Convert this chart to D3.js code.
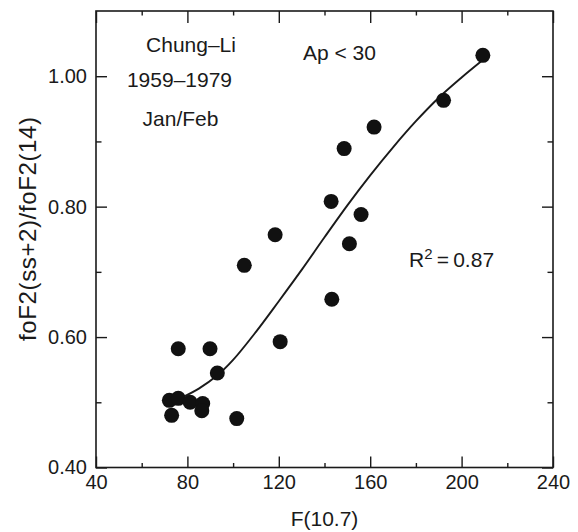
<!DOCTYPE html>
<html>
<head>
<meta charset="utf-8">
<script src="https://cdn.jsdelivr.net/npm/d3@7"></script>
<style>
html,body{margin:0;padding:0;background:#fff;}
svg{display:block;font-family:"Liberation Sans",Arial,Helvetica,sans-serif;}
</style>
</head>
<body>
<svg id="chart" width="578" height="532"></svg>
<script>
// Observed points: F(10.7) and ratio
const f107 = [209.3,192.1,161.7,148.6,142.9,156.0,150.9,143.2,118.4,104.9,120.6,76.0,89.9,93.1,72.1,76.0,81.2,86.7,86.3,73.1,101.6];
const ratio = [1.032,0.963,0.922,0.889,0.808,0.788,0.743,0.658,0.757,0.710,0.593,0.582,0.582,0.545,0.503,0.506,0.500,0.498,0.487,0.480,0.475];
// Fitted curve
const fitX = [78,85,93,100,110,120,130,140,150,160,170,180,190,200,209];
const fitY = [0.508,0.521,0.541,0.565,0.608,0.655,0.703,0.753,0.802,0.848,0.891,0.931,0.967,0.998,1.024];
// Ticks
const xMajor = [40,80,120,160,200,240];
const xMinor = [60,100,140,180,220];
const yMajor = [0.40,0.60,0.80,1.00];
const yMinor = [0.50,0.70,0.90];
const xTitle = "F(10.7)";
const yTitle = "foF2(ss+2)/foF2(14)";

const svg = d3.select("#chart");
const L=96, R=553, T=11, B=467.5;
const x = d3.scaleLinear().domain([40,240]).range([L,R]);
const y = d3.scaleLinear().domain([0.4,1.1]).range([B,T]);
const ink = "#1a1a1a";
const fs = 20;

// Frame
svg.append("rect").attr("x",L).attr("y",T).attr("width",R-L).attr("height",B-T)
  .attr("fill","none").attr("stroke",ink).attr("stroke-width",1.6);

function styleAxis(g){
  g.select(".domain").remove();
  g.selectAll(".tick line").attr("stroke",ink).attr("stroke-width",1.4);
  g.selectAll(".tick text").attr("fill",ink).style("font-size",fs+"px").style("font-family",'"Liberation Sans",Arial,sans-serif');
}
// bottom
svg.append("g").attr("transform",`translate(0,${B})`)
  .call(d3.axisBottom(x).tickValues(xMajor).tickSize(-11).tickPadding(7).tickFormat(d3.format("d")))
  .call(styleAxis);
svg.append("g").attr("transform",`translate(0,${B})`)
  .call(d3.axisBottom(x).tickValues(xMinor).tickSize(-4.5).tickFormat(""))
  .call(styleAxis);
// top
svg.append("g").attr("transform",`translate(0,${T})`)
  .call(d3.axisTop(x).tickValues(xMajor).tickSize(-12).tickFormat(""))
  .call(styleAxis);
svg.append("g").attr("transform",`translate(0,${T})`)
  .call(d3.axisTop(x).tickValues(xMinor).tickSize(-4.5).tickFormat(""))
  .call(styleAxis);
// left
svg.append("g").attr("transform",`translate(${L},0)`)
  .call(d3.axisLeft(y).tickValues(yMajor).tickSize(-11).tickPadding(9).tickFormat(d3.format(".2f")))
  .call(styleAxis);
svg.append("g").attr("transform",`translate(${L},0)`)
  .call(d3.axisLeft(y).tickValues(yMinor).tickSize(-5.5).tickFormat(""))
  .call(styleAxis);
// right
svg.append("g").attr("transform",`translate(${R},0)`)
  .call(d3.axisRight(y).tickValues(yMajor).tickSize(-11).tickFormat(""))
  .call(styleAxis);
svg.append("g").attr("transform",`translate(${R},0)`)
  .call(d3.axisRight(y).tickValues(yMinor).tickSize(-5.5).tickFormat(""))
  .call(styleAxis);

// Fitted curve
const fit = fitX.map((v,i)=>[v,fitY[i]]);
svg.append("path").datum(fit)
  .attr("d", d3.line().x(d=>x(d[0])).y(d=>y(d[1])).curve(d3.curveCatmullRom))
  .attr("fill","none").attr("stroke",ink).attr("stroke-width",1.9);

// Points
svg.append("g").selectAll("circle").data(f107.map((v,i)=>[v,ratio[i]])).join("circle")
  .attr("cx",d=>x(d[0])).attr("cy",d=>y(d[1])).attr("r",7.5).attr("fill","#111");

// Axis titles
svg.append("text").attr("x",(L+R)/2).attr("y",526).attr("text-anchor","middle")
  .attr("fill",ink).style("font-size","21px").text(xTitle);
svg.append("text").attr("transform","translate(36,229) rotate(-90)").attr("text-anchor","middle")
  .attr("fill",ink).style("font-size","24px")
  .attr("textLength",224).attr("lengthAdjust","spacing").text(yTitle);

// Annotations
const ann = svg.append("g").attr("fill",ink).style("font-size","21px");
ann.append("text").attr("x",191).attr("y",52).attr("text-anchor","middle").text("Chung\u2013Li");
ann.append("text").attr("x",179.5).attr("y",87).attr("text-anchor","middle").text("1959\u20131979");
ann.append("text").attr("x",180.5).attr("y",126).attr("text-anchor","middle").text("Jan/Feb");
ann.append("text").attr("x",303).attr("y",60).text("Ap < 30");
const r2 = ann.append("text").attr("x",409).attr("y",267);
r2.append("tspan").text("R");
r2.append("tspan").attr("dy",-8).style("font-size","15px").text("2");
r2.append("tspan").attr("dy",8).text("\u2009=\u20090.87");
</script>
</body>
</html>
